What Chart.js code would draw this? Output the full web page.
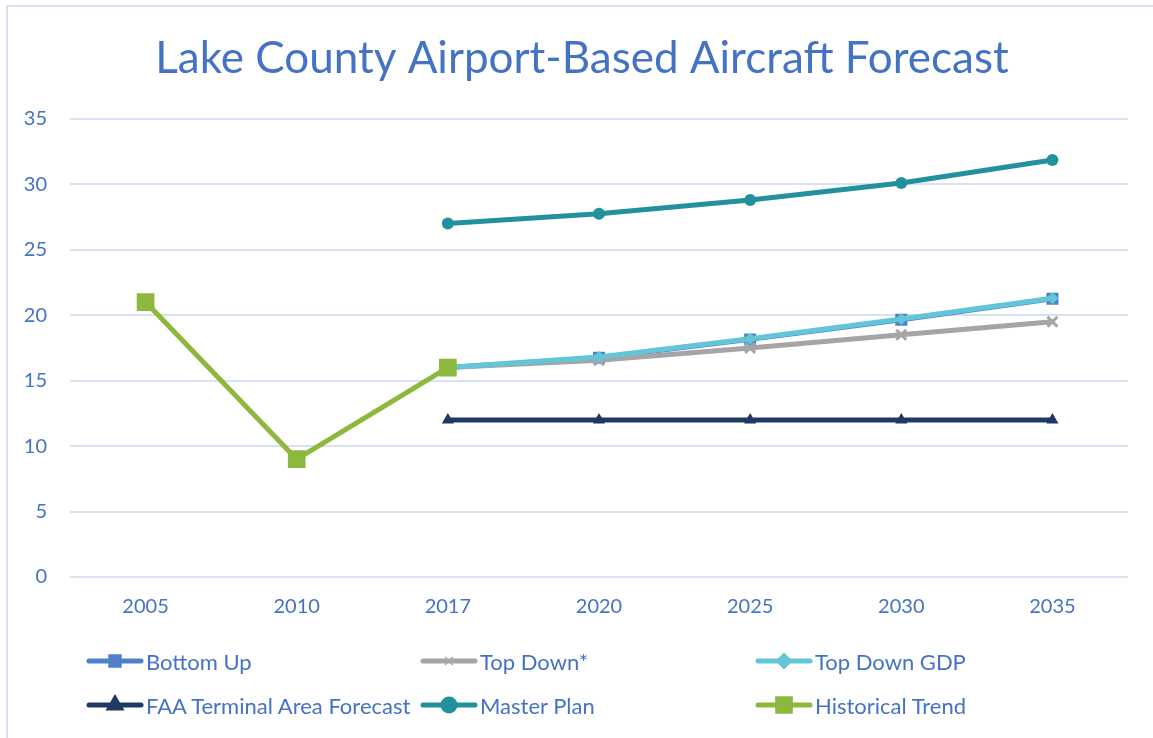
<!DOCTYPE html>
<html>
<head>
<meta charset="utf-8">
<script src="https://cdn.jsdelivr.net/npm/chart.js@4.4.1/dist/chart.umd.min.js"></script>
<style>
  html, body { margin: 0; padding: 0; background: #fff; }
  #wrap { position: relative; width: 1153px; height: 738px; overflow: hidden; }
  #frame { position: absolute; left: 6px; top: 5px; width: 1200px; height: 800px;
           border-top: 2px solid #d9e2f3; border-left: 2px solid #d9e2f3; pointer-events: none; }
  #c { position: absolute; left: 0; top: 0; }
  .lg { position: absolute; height: 24px; display: flex; align-items: center;
        font-family: Lato, "Open Sans", sans-serif; font-size: 22px; color: #4472c4; white-space: nowrap; }
  .lg canvas { display: block; margin-right: 2px; }
</style>
</head>
<body>
<div id="wrap">
  <canvas id="c" width="1153" height="738"></canvas>
  <div id="frame"></div>
  <div id="legend"></div>
</div>
<script>
const categories = ["2005", "2010", "2017", "2020", "2025", "2030", "2035"];
const bottomUp      = [null, null, 16, 16.75, 18.15, 19.65, 21.25];
const topDown       = [null, null, 16, 16.55, 17.5, 18.5, 19.5];
const topDownGDP    = [null, null, 16, 16.8, 18.2, 19.7, 21.3];
const faaTAF        = [null, null, 12, 12, 12, 12, 12];
const masterPlan    = [null, null, 27, 27.75, 28.8, 30.1, 31.85];
const historical    = [21, 9, 16, null, null, null, null];
const seriesNames   = ["Bottom Up", "Top Down*", "Top Down GDP", "FAA Terminal Area Forecast", "Master Plan", "Historical Trend"];
const yTicks        = [0, 5, 10, 15, 20, 25, 30, 35];
const titleText     = "Lake County Airport-Based Aircraft Forecast";

const FONT = 'Lato, "Open Sans", sans-serif';
const TEXT = '#4472c4';

const styles = [
  { color: '#4f81c9', point: 'rect',     radius: 8.5, order: 5 },
  { color: '#a5a5a5', point: 'crossRot', radius: 7,   order: 4 },
  { color: '#62c6d8', point: 'rectRot',  radius: 6,   order: 3 },
  { color: '#1f3864', point: 'triangle', radius: 7,   order: 2 },
  { color: '#23909e', point: 'circle',   radius: 6,   order: 1 },
  { color: '#8db83e', point: 'rect',     radius: 12.5, order: 0 }
];
const values = [bottomUp, topDown, topDownGDP, faaTAF, masterPlan, historical];

const datasets = values.map((v, i) => ({
  label: seriesNames[i],
  data: v,
  borderColor: styles[i].color,
  backgroundColor: styles[i].color,
  pointBackgroundColor: styles[i].color,
  pointBorderColor: styles[i].color,
  pointBorderWidth: styles[i].point === 'crossRot' ? 3 : 0,
  pointStyle: styles[i].point,
  pointRadius: styles[i].radius,
  pointHoverRadius: styles[i].radius,
  borderWidth: 5,
  tension: 0,
  spanGaps: false,
  order: styles[i].order,
  borderCapStyle: 'round',
  borderJoinStyle: 'round'
}));

// shift the title block so it is centred like the reference
const titleShift = {
  id: 'titleShift',
  afterLayout(chart) {
    if (chart.titleBlock) { chart.titleBlock.left = 36; }
  }
};

const chart = new Chart(document.getElementById('c'), {
  type: 'line',
  data: { labels: categories, datasets: datasets },
  plugins: [titleShift],
  options: {
    responsive: false,
    animation: false,
    devicePixelRatio: 1,
    layout: { padding: { left: 0, right: 25, top: 0, bottom: 101 } },
    plugins: {
      legend: { display: false },
      tooltip: { enabled: false },
      title: {
        display: true,
        text: titleText,
        color: TEXT,
        font: { family: FONT, size: 44, weight: 'normal' },
        padding: { top: 32, bottom: 34 }
      }
    },
    scales: {
      x: {
        offset: true,
        grid: { display: false, drawTicks: false },
        border: { display: false },
        ticks: { color: TEXT, font: { family: FONT, size: 20 }, padding: 18, maxRotation: 0 },
        afterFit: s => { s.height = 60; }
      },
      y: {
        min: 0, max: 35,
        afterBuildTicks: s => { s.ticks = yTicks.map(v => ({ value: v })); },
        grid: { color: '#d9e2f3', lineWidth: 2, drawTicks: false },
        border: { display: false },
        ticks: { color: TEXT, font: { family: FONT, size: 20 }, padding: 23 },
        afterFit: s => { s.width = 70; }
      }
    }
  }
});

// HTML legend in 3 columns, icons drawn with Chart.js helpers
const legendPos = [
  { x: 86, y: 649 }, { x: 420, y: 649 }, { x: 755, y: 649 },
  { x: 86, y: 693 }, { x: 420, y: 693 }, { x: 755, y: 693 }
];
const legendRadius = [6, 5, 5, 6, 6, 9];
const legend = document.getElementById('legend');
seriesNames.forEach((name, i) => {
  const d = document.createElement('div');
  d.className = 'lg';
  d.style.left = legendPos[i].x + 'px';
  d.style.top = legendPos[i].y + 'px';
  const cv = document.createElement('canvas');
  cv.width = 58; cv.height = 24;
  const ctx = cv.getContext('2d');
  ctx.strokeStyle = styles[i].color;
  ctx.lineWidth = 5;
  ctx.lineCap = 'round';
  ctx.beginPath(); ctx.moveTo(3, 12); ctx.lineTo(55, 12); ctx.stroke();
  ctx.fillStyle = styles[i].color;
  ctx.strokeStyle = styles[i].color;
  ctx.lineWidth = styles[i].point === 'crossRot' ? 1.5 : 0;
  Chart.helpers.drawPoint(ctx, { pointStyle: styles[i].point, radius: legendRadius[i], rotation: 0, borderWidth: ctx.lineWidth }, 29, 12);
  d.appendChild(cv);
  const sp = document.createElement('span');
  sp.textContent = name;
  d.appendChild(sp);
  legend.appendChild(d);
});
</script>
</body>
</html>
